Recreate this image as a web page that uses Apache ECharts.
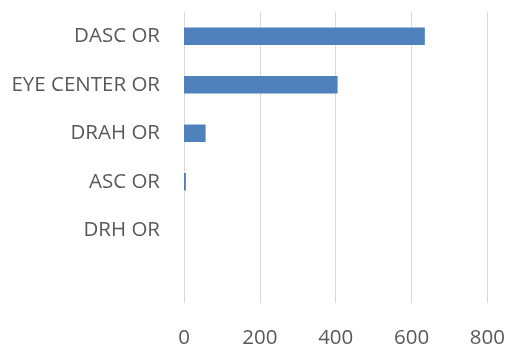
<!DOCTYPE html>
<html>
<head>
<meta charset="utf-8">
<script src="https://cdn.jsdelivr.net/npm/echarts@6/dist/echarts.min.js"></script>
<style>html,body{margin:0;padding:0;background:#fff;}#c{width:508px;height:349px;}</style>
</head>
<body>
<div id="c"></div>
<script>
// Categories listed bottom to top (ECharts category axis runs upward)
const categories = ["", "DRH OR", "ASC OR", "DRAH OR", "EYE CENTER OR", "DASC OR"];
const values = [null, 0, 5, 57, 405, 635];
const xTicks = [0, 200, 400, 600, 800];

const chart = echarts.init(document.getElementById('c'));
chart.setOption({
  animation: false,
  grid: { left: 184, right: 19, top: 12, bottom: 46, containLabel: false },
  xAxis: {
    type: 'value', min: xTicks[0], max: xTicks[xTicks.length - 1], interval: 200,
    axisLine: { show: false }, axisTick: { show: false },
    splitLine: { show: true, lineStyle: { color: '#d9d9d9', width: 1 } },
    axisLabel: { color: '#595959', fontFamily: 'Open Sans', fontSize: 20.5, margin: 25 }
  },
  yAxis: {
    type: 'category', data: categories,
    axisLine: { show: false }, axisTick: { show: false },
    axisLabel: { color: '#595959', fontFamily: 'Open Sans', fontSize: 20.5, margin: 24 }
  },
  series: [{
    type: 'bar', data: values, barWidth: '36%',
    itemStyle: { color: '#4f81bd' }
  }]
});
</script>
</body>
</html>
